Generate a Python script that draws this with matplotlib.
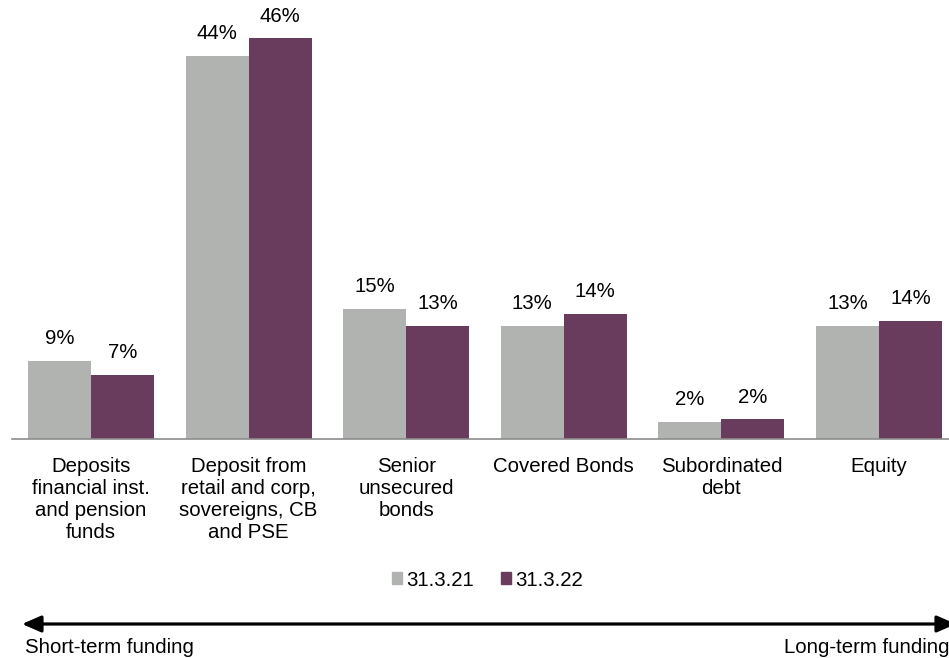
from matplotlib import pyplot as plt
from matplotlib.patches import Patch, FancyArrowPatch
import numpy as np

# funding mix by source, share in %
categories = [
    "Deposits\nfinancial inst.\nand pension\nfunds",
    "Deposit from\nretail and corp,\nsovereigns, CB\nand PSE",
    "Senior\nunsecured\nbonds",
    "Covered Bonds",
    "Subordinated\ndebt",
    "Equity",
]
series_names = ["31.3.21", "31.3.22"]
values_2021 = [9.0, 44.0, 15.0, 13.0, 2.0, 13.0]
values_2022 = [7.4, 46.0, 13.0, 14.4, 2.3, 13.6]

grey = '#B1B3B0'
purple = '#693B5C'
fs = 14.7

plt.rcParams['font.family'] = ['Liberation Sans', 'DejaVu Sans']

W, H = 949, 658
fig = plt.figure(figsize=(W / 100, H / 100), dpi=100)

# axes placed in pixel terms
ax = fig.add_axes([12 / W, 1 - 439.3 / H, 937 / W, 439.3 / H])

x = np.arange(len(categories))
bw = 0.4
ax.bar(x - bw / 2, values_2021, width=bw, color=grey, label=series_names[0])
ax.bar(x + bw / 2, values_2022, width=bw, color=purple, label=series_names[1])

for xi, v in zip(x - bw / 2, values_2021):
    ax.annotate(f"{round(v)}%", (xi, v), xytext=(0, 12), textcoords='offset points',
                ha='center', va='baseline', fontsize=fs)
for xi, v in zip(x + bw / 2, values_2022):
    ax.annotate(f"{round(v)}%", (xi, v), xytext=(0, 12), textcoords='offset points',
                ha='center', va='baseline', fontsize=fs)

ax.set_xlim(-0.501, 5.444)
ax.set_ylim(0, 439.3 / 8.715)

for side in ['top', 'left', 'right']:
    ax.spines[side].set_visible(False)
ax.spines['bottom'].set_color('#8C8C8C')
ax.spines['bottom'].set_linewidth(1.2)
ax.set_yticks([])
ax.set_xticks(x)
ax.set_xticklabels(categories, fontsize=fs, linespacing=1.2)
ax.tick_params(axis='x', length=0, pad=13)

# legend with small square markers
handles = [Patch(color=grey), Patch(color=purple)]
fig.legend(handles, series_names, loc='center', bbox_to_anchor=(487.5 / W, 1 - 580 / H),
           ncol=2, frameon=False, fontsize=fs, handlelength=0.5, handleheight=0.5,
           handletextpad=0.2, columnspacing=1.3, borderpad=0)

# short-term / long-term arrow
arr = FancyArrowPatch((22 / W, 1 - 624 / H), (956 / W, 1 - 624 / H),
                      transform=fig.transFigure,
                      arrowstyle='<|-|>,head_length=11.5,head_width=5',
                      mutation_scale=1, color='black', lw=2.3,
                      shrinkA=0, shrinkB=0)
fig.patches.append(arr)

fig.text(25 / W, 1 - 652.7 / H, "Short-term funding", fontsize=fs, va='baseline', ha='left')
fig.text(784 / W, 1 - 652.7 / H, "Long-term funding", fontsize=fs, va='baseline', ha='left')

fig.savefig("out.png", dpi=100)
